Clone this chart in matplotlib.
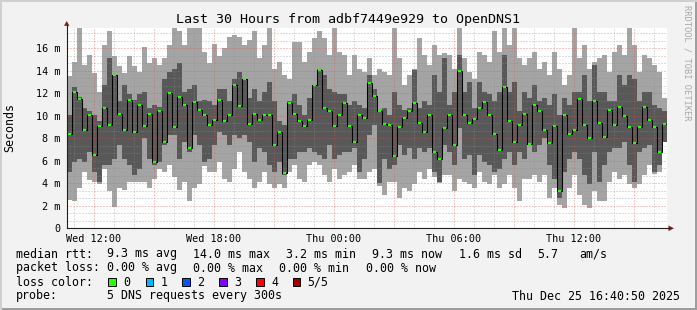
import matplotlib
matplotlib.use("Agg")
import matplotlib.pyplot as plt
from matplotlib.lines import Line2D
from matplotlib.patches import Polygon, Rectangle
import numpy as np

# data: 15 minute steps from Wed 10:40 (hours since Wed 00:00), values in ms
start_hour = 10 + 40 / 60
step_hours = 0.25

ping_max = [13.5, 14.8, 18.5, 14.5, 15.4, 13.8, 12.1, 16.3, 17.5, 15.3,
            14.4, 13.8, 15.3, 14.4, 13.9, 16.1, 14.7, 15.1, 14.5, 15.1,
            16.3, 18.5, 17.5, 16.3, 18.5, 18.5, 18.5, 15.7, 14.7, 16.4,
            15.3, 16.0, 17.0, 17.2, 17.0, 16.3, 16.7, 17.5, 15.1, 16.3,
            18.5, 14.2, 14.8, 13.6, 13.3, 16.6, 16.6, 14.8, 15.7, 16.9,
            17.5, 16.9, 15.4, 18.5, 15.7, 15.4, 13.6, 15.4, 14.2, 13.9,
            15.1, 13.6, 14.2, 13.9, 13.6, 18.5, 15.1, 12.7, 13.6, 14.2,
            16.9, 15.4, 14.5, 16.3, 15.4, 15.6, 15.4, 14.2, 18.5, 15.1,
            13.9, 13.3, 15.7, 15.4, 14.8, 17.5, 15.7, 18.5, 16.3, 18.5,
            15.1, 14.5, 15.1, 15.7, 14.2, 14.8, 13.6, 15.7, 14.2, 12.7,
            13.6, 18.5, 15.1, 16.3, 14.2, 14.8, 15.1, 15.4, 13.9, 15.7,
            16.3, 15.4, 18.5, 16.3, 13.9, 15.4, 15.1, 14.5, 13.9, 11.6]
ping_min = [2.5, 2.4, 3.6, 5.0, 4.3, 4.1, 3.9, 5.3, 3.3, 1.9,
            3.6, 3.4, 4.1, 4.1, 4.1, 4.1, 3.6, 4.4, 5.3, 5.0,
            5.6, 4.6, 3.4, 4.1, 2.4, 3.6, 3.9, 5.5, 5.0, 5.0,
            5.9, 4.4, 4.1, 5.3, 6.8, 5.0, 4.4, 3.6, 4.1, 5.0,
            3.9, 3.6, 3.9, 3.6, 5.0, 5.6, 4.4, 4.1, 5.6, 5.9,
            5.6, 4.7, 4.1, 5.3, 4.4, 4.7, 5.0, 5.6, 4.4, 4.4,
            5.0, 5.3, 3.8, 3.0, 4.1, 4.1, 2.7, 3.6, 3.3, 3.9,
            5.0, 4.4, 5.3, 4.6, 4.0, 4.7, 4.7, 3.3, 4.4, 4.1,
            3.9, 3.6, 5.0, 4.1, 3.9, 4.7, 3.6, 3.9, 4.7, 3.6,
            2.4, 4.4, 4.4, 4.7, 4.1, 4.7, 2.7, 3.6, 2.1, 1.8,
            3.6, 4.7, 3.0, 2.1, 1.8, 3.3, 2.4, 2.4, 4.1, 5.0,
            4.4, 4.7, 3.9, 3.6, 3.9, 4.7, 5.6, 4.8, 5.0, 7.7]
ping_q3 = [10.1, 12.6, 11.7, 10.7, 10.4, 10.1, 9.5, 12.7, 15.1, 13.6,
           11.3, 12.7, 11.9, 11.4, 11.9, 12.1, 10.7, 11.0, 10.8, 13.3,
           13.9, 14.2, 14.7, 12.1, 12.4, 12.7, 11.3, 11.4, 11.3, 11.0,
           12.4, 12.4, 11.3, 13.3, 13.9, 13.3, 11.6, 12.4, 11.3, 12.1,
           13.0, 11.3, 9.5, 9.2, 11.3, 11.9, 11.0, 10.1, 11.6, 12.7,
           14.2, 13.6, 12.4, 12.1, 11.9, 11.9, 11.0, 11.3, 11.0, 10.7,
           13.6, 12.4, 10.5, 10.7, 10.1, 12.1, 11.0, 10.5, 10.7, 14.1,
           10.7, 11.3, 11.0, 13.6, 12.1, 15.1, 11.0, 12.1, 15.4, 12.1,
           13.0, 10.7, 13.0, 12.1, 11.9, 11.3, 12.1, 15.4, 12.1, 13.0,
           10.4, 12.1, 11.6, 12.7, 11.3, 11.6, 11.0, 11.9, 10.1, 11.6,
           11.0, 12.1, 12.1, 13.6, 11.3, 14.5, 12.1, 12.1, 11.3, 11.3,
           13.6, 12.7, 13.6, 13.3, 11.3, 12.1, 12.1, 11.0, 10.7, 10.4]
ping_q1 = [5.0, 5.9, 6.2, 5.9, 6.8, 5.0, 4.1, 5.6, 5.6, 6.2,
           7.4, 6.2, 5.6, 4.7, 5.3, 8.0, 6.2, 5.6, 5.9, 7.4,
           8.3, 8.3, 6.2, 7.7, 6.8, 8.3, 7.4, 5.9, 6.2, 7.4,
           8.6, 8.3, 7.4, 8.3, 8.0, 8.3, 7.7, 5.9, 7.1, 6.8,
           5.6, 5.0, 5.9, 4.7, 6.2, 6.2, 6.8, 6.8, 7.1, 6.8,
           6.5, 6.2, 7.4, 6.2, 6.5, 6.8, 6.8, 7.1, 5.0, 6.2,
           8.3, 9.2, 4.0, 6.2, 5.3, 5.6, 7.4, 6.5, 7.1, 6.2,
           7.1, 6.8, 7.1, 5.0, 4.1, 7.4, 6.8, 5.6, 8.9, 6.2,
           6.5, 4.7, 6.5, 5.9, 5.6, 5.0, 5.3, 6.2, 6.8, 5.6,
           6.8, 6.2, 7.4, 6.8, 7.4, 8.0, 5.6, 4.4, 2.7, 5.0,
           6.2, 6.8, 6.2, 4.7, 3.9, 6.8, 4.1, 5.6, 6.8, 7.1,
           7.1, 7.7, 5.6, 4.1, 6.8, 7.1, 7.4, 5.0, 5.6, 7.7]
median = [8.4, 12.1, 11.5, 8.7, 10.1, 6.5, 9.1, 10.7, 9.2, 13.6,
          10.2, 8.7, 11.4, 8.6, 11.0, 9.1, 10.2, 5.9, 10.4, 7.7,
          12.0, 9.0, 11.7, 11.0, 7.1, 11.2, 10.5, 10.1, 9.2, 9.6,
          11.4, 9.5, 10.1, 12.7, 10.9, 13.3, 9.3, 10.2, 9.6, 10.1,
          10.1, 7.4, 8.6, 4.9, 11.1, 10.2, 9.5, 9.1, 9.6, 12.7,
          14.1, 10.7, 10.4, 9.1, 10.1, 11.1, 9.1, 7.7, 10.1, 9.8,
          12.9, 11.8, 10.4, 9.3, 9.2, 6.4, 9.0, 9.8, 10.4, 11.1,
          9.4, 8.6, 10.1, 6.8, 6.2, 8.9, 10.1, 7.4, 14.0, 10.1,
          9.4, 9.7, 10.7, 11.2, 10.1, 8.4, 7.0, 12.6, 9.5, 7.7,
          9.2, 10.2, 7.5, 11.0, 10.4, 8.7, 7.6, 9.1, 3.3, 10.1,
          8.4, 8.7, 11.5, 9.2, 8.0, 11.3, 9.4, 8.1, 10.5, 9.2,
          10.8, 10.0, 9.0, 7.6, 9.0, 10.8, 9.6, 9.0, 6.8, 9.3]

x_ticks = [12, 18, 24, 30, 36]
x_labels = ["Wed 12:00", "Wed 18:00", "Thu 00:00", "Thu 06:00", "Thu 12:00"]
y_ticks = [0, 2, 4, 6, 8, 10, 12, 14, 16]
y_labels = ["0"] + ["%d m" % v for v in y_ticks[1:]]

loss_colors = ["#26ff00", "#00b8ff", "#0059ff", "#7e00ff", "#ff0000", "#a10000"]
loss_names = ["0", "1", "2", "3", "4", "5/5"]

W, H = 697, 310
MONO = "DejaVu Sans Mono"
GRID = (0.56, 0.56, 0.56, 0.6)
MGRID = (0.87, 0.31, 0.31, 0.6)


def fx(x):
    return x / W


def fy(y):
    return 1 - y / H


fig = plt.figure(figsize=(W / 100, H / 100), dpi=100, facecolor="#f2f2f2")

# frame around the image
fig.add_artist(Rectangle((0, 0), 1, fy(308), transform=fig.transFigure, color="#9e9e9e", lw=0))
fig.add_artist(Rectangle((fx(695), 0), 2 / W, 1, transform=fig.transFigure, color="#9e9e9e", lw=0))
fig.add_artist(Rectangle((0, fy(2)), 1, 2 / H, transform=fig.transFigure, color="#cfcfcf", lw=0))
fig.add_artist(Rectangle((0, 0), 2 / W, 1, transform=fig.transFigure, color="#cfcfcf", lw=0))

ax = fig.add_axes([fx(67), fy(228.3), 600 / W, 200.3 / H])
ax.set_facecolor("white")

t = start_hour + step_hours * np.arange(len(median))
lo = np.array(ping_min)
hi = np.array(ping_max)
q1 = np.array(ping_q1)
q3 = np.array(ping_q3)
med = np.array(median)

ax.bar(t, hi - lo, bottom=lo, width=step_hours, align="edge", color="#a4a4a4", lw=0, zorder=1)
ax.bar(t, q3 - q1, bottom=q1, width=step_hours, align="edge", color="#585858", lw=0, zorder=1.1)

ax.set_xlim(start_hour, start_hour + 30)
ax.set_ylim(0, 17.8)

# grid on top of the smoke, like rrdtool
dots = (0, (1, 2))
for h in range(11, 41):
    ax.axvline(h, color=MGRID if h % 3 == 0 else GRID, lw=0.72, ls=dots, zorder=2)
for k in range(1, 27):
    ax.axhline(k * 2 / 3, color=MGRID if k % 3 == 0 else GRID, lw=0.72, ls=dots, zorder=2)

# median
ax.step(np.append(t, t[-1] + step_hours), np.append(med, med[-1]), where="post",
        color="black", lw=0.75, zorder=3)
ax.hlines(med, t + 0.05, t + step_hours - 0.05, color=loss_colors[0], lw=1.6, zorder=4)

for s in ax.spines.values():
    s.set_visible(False)
ax.set_xticks(x_ticks)
ax.set_xticklabels(x_labels, fontfamily=MONO, fontsize=7.3)
ax.set_yticks(y_ticks)
ax.set_yticklabels(y_labels, fontfamily=MONO, fontsize=7.3)
ax.tick_params(length=0)
ax.tick_params(axis="y", pad=5)
ax.tick_params(axis="x", pad=4)

# axes with arrows
fig.add_artist(Line2D([fx(67), fx(669)], [fy(228.3), fy(228.3)], color="#1f1f1f", lw=0.8))
fig.add_artist(Line2D([fx(66.7), fx(66.7)], [fy(228.3), fy(25)], color="#1f1f1f", lw=0.8))
fig.add_artist(Polygon([(fx(668.5), fy(225.5)), (fx(674), fy(228.3)), (fx(668.5), fy(231.1))],
                       closed=True, transform=fig.transFigure, color="#801f1f", lw=0))
fig.add_artist(Polygon([(fx(64), fy(25.8)), (fx(66.7), fy(21)), (fx(69.4), fy(25.8))],
                       closed=True, transform=fig.transFigure, color="#801f1f", lw=0))

fig.text(fx(347.5), fy(19), "Last 30 Hours from adbf7449e929 to OpenDNS1",
         ha="center", va="center", fontfamily=MONO, fontsize=9.6)
fig.text(fx(10), fy(128), "Seconds", rotation=90, ha="center", va="center",
         fontfamily=MONO, fontsize=8.4)
fig.text(fx(687), fy(5), "RRDTOOL / TOBI OETIKER", rotation=270, ha="center", va="top",
         fontfamily=MONO, fontsize=6.3, color="#a8a8a8")

# legend
fs = 8.4
row1 = [(16, "median rtt:"), (107, "9.3 ms avg"), (193, "14.0 ms max"), (286, "3.2 ms min"),
        (372, "9.3 ms now"), (459, "1.6 ms sd"), (537, "5.7"), (579, "am/s")]
row2 = [(16, "packet loss:"), (107, "0.00 % avg"), (193, "0.00 % max"), (279, "0.00 % min"),
        (366, "0.00 % now")]
for x, s in row1:
    fig.text(fx(x), fy(254), s, ha="left", va="center", fontfamily=MONO, fontsize=fs)
for x, s in row2:
    fig.text(fx(x), fy(268), s, ha="left", va="center", fontfamily=MONO, fontsize=fs)

fig.text(fx(16), fy(282), "loss color:", ha="left", va="center", fontfamily=MONO, fontsize=fs)
box_x = [108.3, 145.7, 182.3, 219, 256, 292.7]
for bx, c, n in zip(box_x, loss_colors, loss_names):
    fig.add_artist(Rectangle((fx(bx), fy(285.7)), 7.5 / W, 7.5 / H, transform=fig.transFigure,
                             facecolor=c, edgecolor="black", lw=0.7))
    fig.text(fx(bx + 15), fy(282), n, ha="left", va="center", fontfamily=MONO, fontsize=fs)

fig.text(fx(16), fy(296), "probe:", ha="left", va="center", fontfamily=MONO, fontsize=fs)
fig.text(fx(107), fy(296), "5 DNS requests every 300s", ha="left", va="center",
         fontfamily=MONO, fontsize=fs)
fig.text(fx(680), fy(296), "Thu Dec 25 16:40:50 2025", ha="right", va="center",
         fontfamily=MONO, fontsize=fs)

fig.savefig("out.png", dpi=100, facecolor=fig.get_facecolor())
